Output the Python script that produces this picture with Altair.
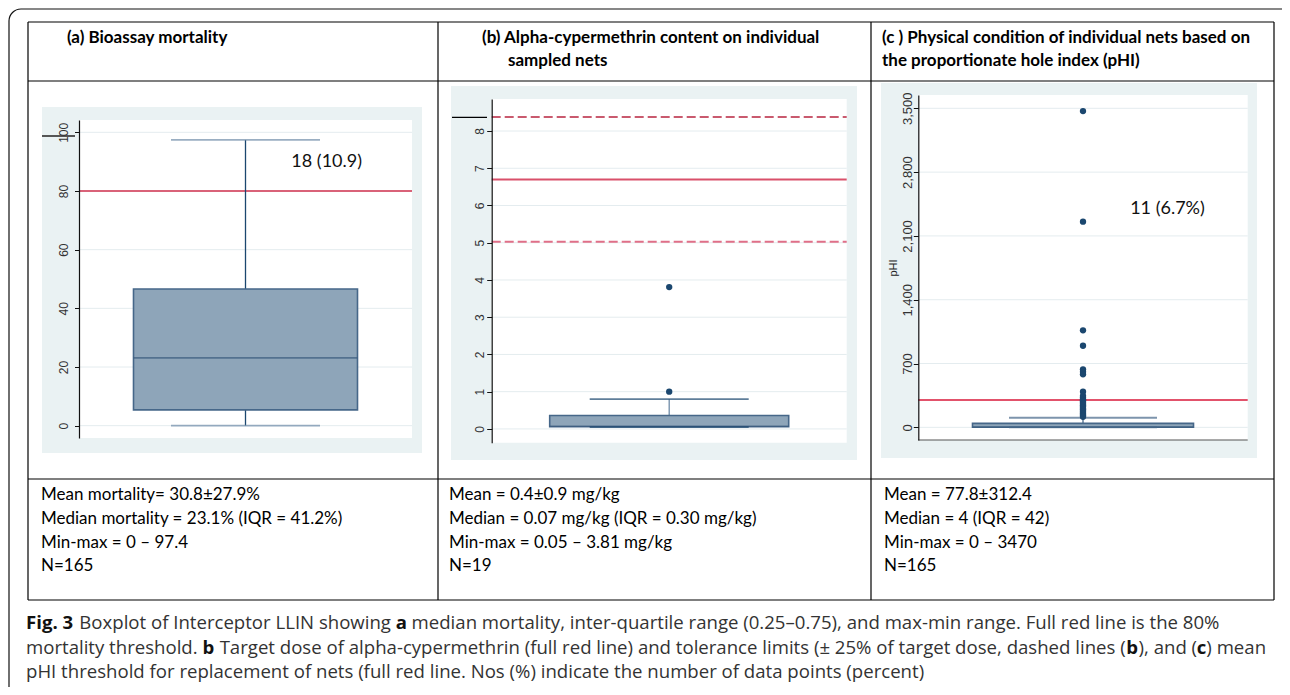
import altair as alt
import pandas as pd

# ---------------- data ----------------
panel_keys = ["mortality", "alpha", "phi"]

mort_ticks = [0, 20, 40, 60, 80, 100]
mort_box = [0.0, 5.4, 23.1, 46.6, 97.4]      # lower whisker, Q1, median, Q3, upper whisker
mort_threshold = [80]
mort_note = "18 (10.9)"

ac_ticks = [0, 1, 2, 3, 4, 5, 6, 7, 8]
ac_box = [0.05, 0.06, 0.07, 0.36, 0.80]
ac_outliers = [1.00, 3.81]
ac_target = [6.7]
ac_limits_low = [5.025]
ac_limits_high = [8.375]

phi_ticks = [0, 700, 1400, 2100, 2800, 3500]
phi_box = [0, 1, 4, 43, 105]
phi_outliers = [3470, 2256, 1064, 895, 636, 610, 581, 390, 346, 327, 309,
                296, 284, 270, 256, 241, 228, 212, 199, 183, 168, 152, 139, 126, 116]
phi_threshold = [300]
phi_note = "11 (6.7%)"

header_a = "(a)  Bioassay mortality"
header_b = ["(b)  Alpha-cypermethrin content on individual", "sampled nets"]
header_c = ["(c ) Physical condition of individual nets based on", "the proportionate hole index (pHI)"]

stats_a = ["Mean mortality= 30.8±27.9%", "Median mortality = 23.1% (IQR = 41.2%)",
           "Min-max = 0 – 97.4", "N=165"]
stats_b = ["Mean = 0.4±0.9 mg/kg", "Median = 0.07 mg/kg (IQR = 0.30 mg/kg)",
           "Min-max = 0.05 – 3.81 mg/kg", "N=19"]
stats_c = ["Mean = 77.8±312.4", "Median = 4 (IQR = 42)", "Min-max = 0 – 3470", "N=165"]

# caption segments: (text, bold, space_after)
caption_1 = [("Fig. 3", True, True), ("Boxplot of Interceptor LLIN showing", False, True), ("a", True, True),
             ("median mortality, inter-quartile range (0.25–0.75), and max-min range. Full red line is the 80%", False, False)]
caption_2 = [("mortality threshold.", False, True), ("b", True, True),
             ("Target dose of alpha-cypermethrin (full red line) and tolerance limits (± 25% of target dose, dashed lines (", False, False),
             ("b", True, False), ("), and (", False, False), ("c", True, False), (") mean", False, False)]
caption_3 = [("pHI threshold for replacement of nets (full red line. Nos (%) indicate the number of data points (percent)", False, False)]

# ---------------- layout helpers ----------------
W, H = 1274, 679
OFF = 8


def X(v):
    return v - OFF


def Y(v):
    return v - OFF


one = pd.DataFrame({"k": [0]})

GRAYBG = "#EAF2F3"
GRID = "#E4ECEF"
BOXFILL = "#8EA5B9"
BOXLINE = "#466789"
NAVY = "#1B476F"
CAPGRAY = "#6F8CA8"

# approximate Open Sans advance widths (units per em = 2048), used to chain caption pieces
OS_W = {" ": 532, "(": 604, ")": 604, ",": 502, "-": 659, ".": 545, "%": 1706, "±": 1171, "–": 1024,
        "B": 1300, "F": 1104, "I": 559, "L": 1061, "N": 1556, "T": 1126, "H": 1511,
        "a": 1139, "b": 1255, "c": 975, "d": 1255, "e": 1149, "f": 694, "g": 1122, "h": 1257,
        "i": 518, "j": 518, "k": 1075, "l": 518, "m": 1905, "n": 1257, "o": 1237, "p": 1255,
        "q": 1255, "r": 836, "s": 977, "t": 723, "u": 1257, "v": 1026, "w": 1593, "x": 1073,
        "y": 1028, "z": 954}


def text_width(s, size, bold=False):
    w = sum(OS_W.get(ch, 1171) for ch in s) / 2048 * size
    return w * (1.07 if bold else 1.0)


def rect(x1, y1, x2, y2, **kw):
    return alt.Chart(one).mark_rect(**kw).encode(
        x=alt.value(X(x1)), x2=alt.value(X(x2)), y=alt.value(Y(y1)), y2=alt.value(Y(y2)))


def hrule(x1, x2, y, **kw):
    return alt.Chart(one).mark_rule(**kw).encode(
        x=alt.value(X(x1)), x2=alt.value(X(x2)), y=alt.value(Y(y)))


def vrule(x, y1, y2, **kw):
    return alt.Chart(one).mark_rule(**kw).encode(
        x=alt.value(X(x)), y=alt.value(Y(y1)), y2=alt.value(Y(y2)))


def label(s, x, y, **kw):
    return alt.Chart(one).mark_text(**kw).encode(
        x=alt.value(X(x)), y=alt.value(Y(y)), text=alt.value(s))


def make_axis(ticks, tick_size, pad, fs, plot_left, title=None, fmt=None):
    kw = dict(orient="left", offset=-X(plot_left), values=ticks, grid=False, zindex=2,
              domainColor="#111", domainWidth=1.2, tickColor="#111", tickWidth=1,
              tickSize=tick_size, labelAngle=270, labelAlign="center",
              labelBaseline="alphabetic", labelPadding=pad, labelFont="Liberation Sans",
              labelFontSize=fs, labelColor="#333", labelFlush=False, labelOverlap=False)
    if fmt:
        kw["format"] = fmt
    if title:
        kw.update(title=title, titleAngle=270, titleFont="Liberation Sans", titleFontSize=11,
                  titleFontWeight="normal", titleColor="#222", titlePadding=3)
    else:
        kw["title"] = None
    return alt.Axis(**kw)


def panel(key, box, ticks, dom, plot, bg, box_w, cap_w, axis, refs, outliers=None,
          whisk_col=NAVY, cap_col=CAPGRAY):
    l, t, r, b = plot
    out = [rect(*bg, color=GRAYBG), rect(l, t, r, b, color="#FFFFFF")]
    ys = alt.Scale(domain=dom, range=[Y(b), Y(t)], zero=False, nice=False)
    po = ((r - l) / box_w - 1) / 2
    xs = alt.Scale(type="band", domain=[key], range=[X(l), X(r)],
                   paddingInner=0, paddingOuter=po)
    xe = alt.X("panel:N", scale=xs, axis=None)
    out.append(alt.Chart(pd.DataFrame({"v": ticks})).mark_rule(color=GRID, strokeWidth=1).encode(
        x=alt.value(X(l)), x2=alt.value(X(r)), y=alt.Y("v:Q", scale=ys, axis=axis)))
    for vals, style in refs:
        out.append(alt.Chart(pd.DataFrame({"v": vals})).mark_rule(**style).encode(
            x=alt.value(X(l)), x2=alt.value(X(r)), y=alt.Y("v:Q", scale=ys, axis=None)))
    bdf = pd.DataFrame({"panel": [key], "lo": [box[0]], "q1": [box[1]], "med": [box[2]],
                        "q3": [box[3]], "hi": [box[4]]})
    base = alt.Chart(bdf)
    out.append(base.mark_rule(color=whisk_col, strokeWidth=1.3).encode(
        x=xe, y=alt.Y("lo:Q", scale=ys, axis=None), y2="q1:Q"))
    out.append(base.mark_rule(color=whisk_col, strokeWidth=1.3).encode(
        x=xe, y=alt.Y("q3:Q", scale=ys, axis=None), y2="hi:Q"))
    out.append(base.mark_bar(fill=BOXFILL, stroke=BOXLINE, strokeWidth=1.6).encode(
        x=xe, y=alt.Y("q1:Q", scale=ys, axis=None), y2="q3:Q"))
    out.append(base.mark_tick(color="#3A5B7D", thickness=1.6, size=box_w).encode(
        x=xe, y=alt.Y("med:Q", scale=ys, axis=None)))
    out.append(base.transform_fold(["lo", "hi"], as_=["s", "v"]).mark_tick(
        color=cap_col, thickness=1.8, size=cap_w).encode(
        x=xe, y=alt.Y("v:Q", scale=ys, axis=None)))
    if outliers:
        out.append(alt.Chart(pd.DataFrame({"panel": key, "v": outliers})).mark_circle(
            color=NAVY, size=40, opacity=1).encode(x=xe, y=alt.Y("v:Q", scale=ys, axis=None)))
    return out


layers = []

# outer frame
layers.append(rect(9, 9, 1320, 740, fillOpacity=0, stroke="#111", strokeWidth=1.2, cornerRadius=12))

# panel (a)
layers += panel(panel_keys[0], mort_box, mort_ticks, [-4.2, 104.2], (79, 120, 412, 438),
                (42, 107, 422, 453), 224, 149,
                make_axis(mort_ticks, 4.5, 7, 12, 79),
                [(mort_threshold, dict(color="#D0304E", strokeWidth=1.5))])
layers.append(hrule(42, 75, 136, color="#555", strokeWidth=2))
layers.append(label(mort_note, 326.7, 161.7, font="Lato", fontSize=18, align="center",
                    baseline="middle", color="#111"))

# panel (b)
layers += panel(panel_keys[1], ac_box, ac_ticks, [-0.37, 8.86], (491.7, 99, 846.7, 442.7),
                (451, 86, 857, 460), 239, 159,
                make_axis(ac_ticks, 5, 3, 12, 491.7),
                [(ac_target, dict(color="#D9506A", strokeWidth=2)),
                 (ac_limits_low, dict(color="#E06F88", strokeWidth=2, strokeDash=[9, 4])),
                 (ac_limits_high, dict(color="#B8243F", strokeWidth=1.4, strokeDash=[9, 4]))],
                outliers=ac_outliers, whisk_col=CAPGRAY, cap_col=NAVY)
layers.append(hrule(452, 487, 117.3, color="#000", strokeWidth=1.2))

# panel (c)
layers += panel(panel_keys[2], phi_box, phi_ticks, [-139, 3646], (918.3, 95, 1247.7, 440),
                (881, 83, 1257, 458), 221, 148,
                make_axis(phi_ticks, 5, 2, 13, 918.3, title="pHI", fmt=",.0f"),
                [(phi_threshold, dict(color="#D8193A", strokeWidth=1.5))],
                outliers=phi_outliers, whisk_col=BOXLINE, cap_col=BOXLINE)
layers.append(hrule(918.3, 1247.7, 440, color="#555", strokeWidth=1.2))
layers.append(label(phi_note, 1167.5, 209.3, font="Lato", fontSize=18, align="center",
                    baseline="middle", color="#111"))

# table grid
for xv in [28, 438, 871, 1274]:
    layers.append(vrule(xv, 22, 600, color="#000", strokeWidth=1.2))
for yv in [22, 81, 479, 600]:
    layers.append(hrule(28, 1274, yv, color="#000", strokeWidth=1.2))

# headers
HDR = dict(font="Lato", fontSize=17, fontWeight="bold", color="#000", align="left",
           baseline="alphabetic")
layers.append(label(header_a, 67, 43, **HDR))
layers.append(label(header_b[0], 482, 43, **HDR))
layers.append(label(header_b[1], 508, 66, **HDR))
layers.append(label(header_c[0], 882, 43, **HDR))
layers.append(label(header_c[1], 882, 66, **HDR))

# statistics rows
STA = dict(font="Lato", fontSize=17, color="#000", align="left", baseline="alphabetic",
           lineHeight=23.8)
layers.append(label(stats_a, 41, 500, **STA))
layers.append(label(stats_b, 449, 500, **STA))
layers.append(label(stats_c, 884, 500, **STA))

# caption, pieces chained one after the other
CAP_SIZE = 18.6
CAP = dict(font="Open Sans", fontSize=CAP_SIZE, align="left", baseline="alphabetic")
cap_y = [629, 653.5, 678]
for segs, yv in zip([caption_1, caption_2, caption_3], cap_y):
    xv = 26
    for txt, bold, space in segs:
        if bold:
            layers.append(label(txt, xv, yv, fontWeight="bold", color="#111", **CAP))
        else:
            layers.append(label(txt, xv, yv, color="#333", **CAP))
        xv += text_width(txt, CAP_SIZE, bold) + (text_width(" ", CAP_SIZE) if space else 0)

chart = alt.layer(*layers).resolve_scale(x="independent", y="independent").properties(
    width=W, height=H, autosize=alt.AutoSizeParams(type="none"), padding=0,
    background="#FFFFFF").configure_view(strokeWidth=0)

chart.save("out.html", embed_options={"renderer": "svg", "actions": False})
